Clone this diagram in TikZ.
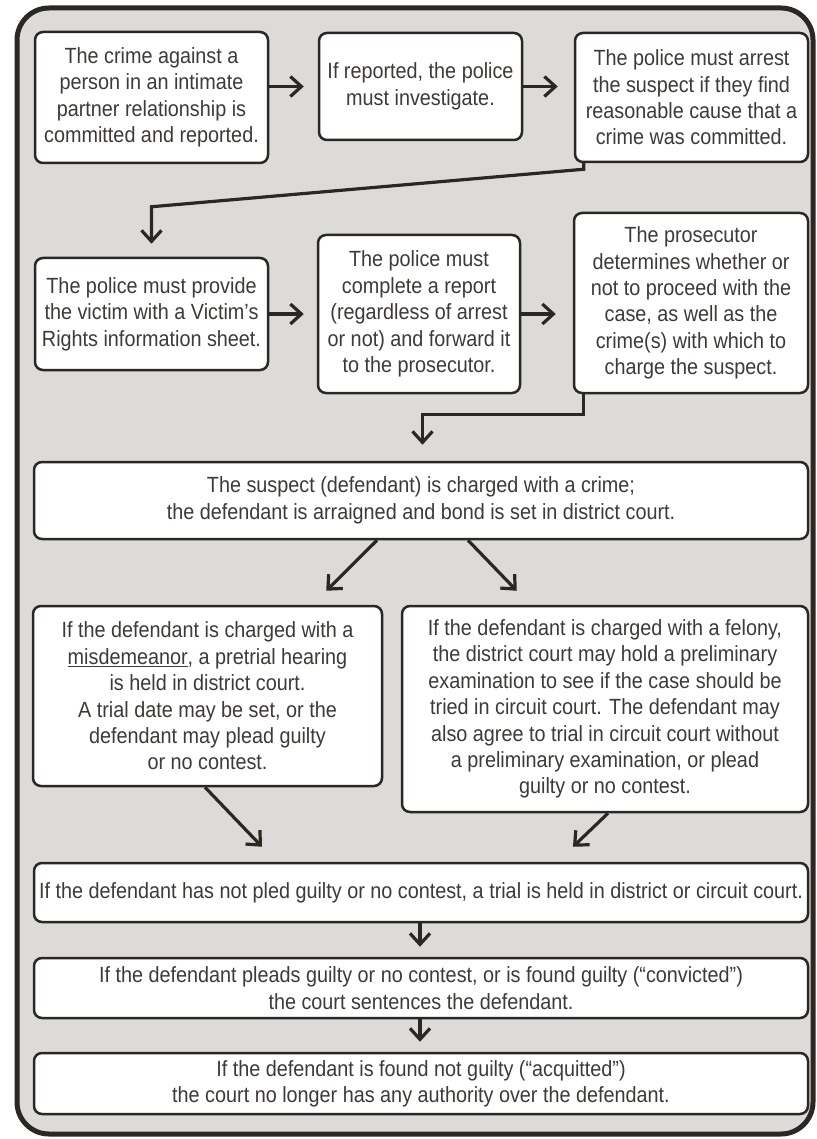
\documentclass[tikz,border=0pt]{standalone}
\usepackage{fontspec}
\setmainfont{Liberation Sans}[FakeStretch=0.9]
\usetikzlibrary{arrows.meta,calc}
\definecolor{ink}{RGB}{43,39,34}
\definecolor{txt}{RGB}{62,58,54}
\definecolor{bg}{RGB}{220,219,217}
\begin{document}
\begin{tikzpicture}[x=1pt,y=-1pt,
  box/.style={draw=ink,line width=2.5pt,fill=white,rounded corners=8pt,inner sep=0pt,
    align=center,text=txt,font=\fontsize{22}{26.4}\selectfont},
  wh/.style 2 args={minimum width=#1pt,minimum height=#2pt},
  arr/.style={draw=ink,line width=3.2pt,-{Straight Barb[length=11pt,width=20pt]}}]
\useasboundingbox (0,0) rectangle (816,1139);
\draw[ink,line width=5pt,fill=bg,rounded corners=32pt] (17,8) rectangle (813,1134);

\node[box,wh={233}{131}] (b1) at (151.5,97.5) {The crime against a\\person in an intimate\\partner relationship is\\committed and reported.};
\node[box,wh={203}{107}] (b2) at (420.5,86.5) {If reported, the police\\must investigate.};
\node[box,wh={233}{129}] (b3) at (691.5,97.5) {The police must arrest\\the suspect if they find\\reasonable cause that a\\crime was committed.};

\node[box,wh={233}{112}] (b4) at (151.5,314) {The police must provide\\the victim with a Victim's\\Rights information sheet.};
\node[box,wh={202}{158}] (b5) at (419,314) {The police must\\complete a report\\(regardless of arrest\\or not) and forward it\\to the prosecutor.};
\node[box,wh={234}{180}] (b6) at (691,303) {The prosecutor\\determines whether or\\not to proceed with the\\case, as well as the\\crime(s) with which to\\charge the suspect.};

\node[box,wh={774}{77}] (b7) at (421,500.5) {The suspect (defendant) is charged with a crime;\\the defendant is arraigned and bond is set in district court.};

\node[box,wh={349}{180}] (b8) at (207.5,696) {If the defendant is charged with a\\\underline{misdemeanor}, a pretrial hearing\\is held in district court.\\A trial date may be set, or the\\defendant may plead guilty\\or no contest.};
\node[box,wh={406}{206}] (b9) at (605,709) {If the defendant is charged with a felony,\\the district court may hold a preliminary\\examination to see if the case should be\\tried in circuit court. The defendant may\\also agree to trial in circuit court without\\a preliminary examination, or plead\\guilty or no contest.};

\node[box,wh={774}{59}] (b10) at (421,892.5) {If the defendant has not pled guilty or no contest, a trial is held in district or circuit court.};
\node[box,wh={774}{60}] (b11) at (421,988) {If the defendant pleads guilty or no contest, or is found guilty (“convicted”)\\the court sentences the defendant.};
\node[box,wh={774}{61}] (b12) at (421,1083.5) {If the defendant is found not guilty (“acquitted”)\\the court no longer has any authority over the defendant.};

\draw[arr] (b1.east |- b2.west) -- ($(b2.west)+(-14,0)$);
\draw[arr] (b2.east) -- ($(b3.west |- b2.east)+(-16,0)$);
\draw[arr] (b4.east) -- ($(b5.west |- b4.east)+(-13,0)$);
\draw[arr] (b5.east) -- ($(b6.west |- b5.east)+(-17,0)$);
\draw[arr] ($(b3.south west)+(10,0)$) -- ++(0,6) -- ($(b4.north)+(0,-50)$) -- ($(b4.north)+(0,-13)$);
\draw[arr] ($(b6.south west)+(11,0)$) -- ++(0,20) -| ($(b7.north)+(1.5,-16)$);
\draw[arr] ($(b7.south)+(-44,0)$) -- ($(b8.north east)+(-57,-14)$);
\draw[arr] ($(b7.south)+(47,0)$) -- ($(b9.north west)+(116,-14)$);
\draw[arr] ($(b8.south)+(-2.5,0)$) -- ($(b10.north)+(-159,-15)$);
\draw[arr] ($(b9.south)+(3,0)$) -- ($(b10.north)+(152,-15)$);
\draw[arr] ($(b10.south)+(-1,0)$) -- ($(b11.north)+(-1,-10)$);
\draw[arr] ($(b11.south)+(-1,0)$) -- ($(b12.north)+(-1,-10)$);
\end{tikzpicture}
\end{document}
